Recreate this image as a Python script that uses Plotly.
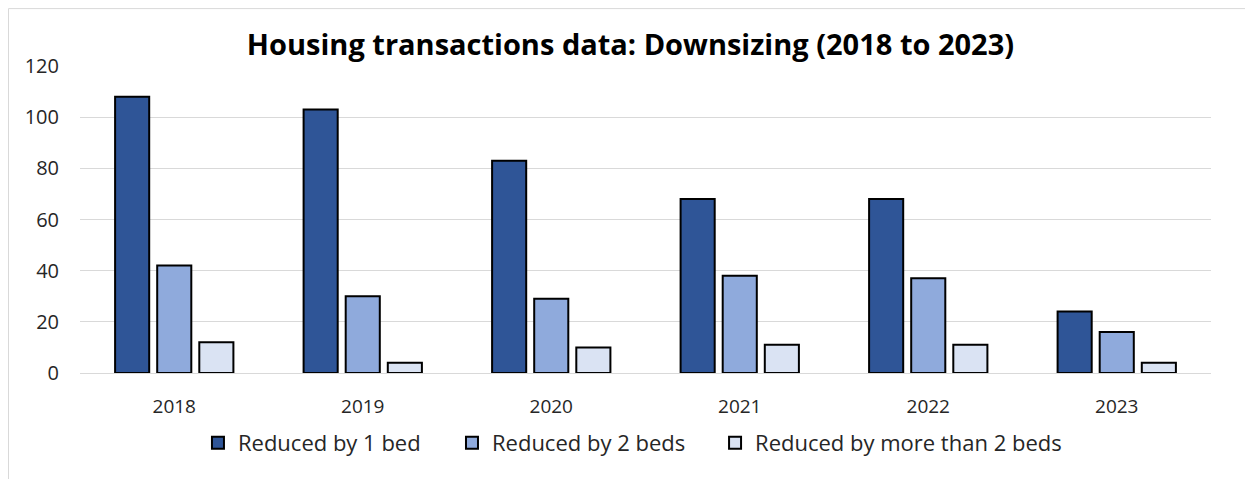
import plotly.graph_objects as go

years = ["2018", "2019", "2020", "2021", "2022", "2023"]
reduced_1 = [108, 103, 83, 68, 68, 24]
reduced_2 = [42, 30, 29, 38, 37, 16]
reduced_more = [12, 4, 10, 11, 11, 4]

series = [
    ("Reduced by 1 bed", reduced_1, "#2F5597"),
    ("Reduced by 2 beds", reduced_2, "#8FAADC"),
    ("Reduced by more than 2 beds", reduced_more, "#DAE3F3"),
]

_FONT = "Open Sans, Noto Sans, Arial, sans-serif"
# one legend per series so the entries can be spaced like the original
legend_ids = ["legend", "legend2", "legend3"]
legend_x = [0.1043, 0.3289, 0.5615]

fig = go.Figure()
for (name, vals, color), lid in zip(series, legend_ids):
    fig.add_trace(go.Bar(
        x=years, y=vals, name=name, legend=lid, showlegend=True,
        marker=dict(color=color, line=dict(color="#000000", width=2)),
    ))

legend_style = dict(
    orientation="h", xanchor="left", y=-0.228, yanchor="middle",
    font=dict(size=22, color="#262626"), itemwidth=30,
    bgcolor="rgba(0,0,0,0)",
)

# page body has an 8px margin, so the figure is sized/offset to compensate
fig.update_layout(
    width=1245, height=471, showlegend=True,
    barmode="group", bargap=0.33, bargroupgap=0.19,
    paper_bgcolor="#FFFFFF", plot_bgcolor="#FFFFFF",
    margin=dict(l=72, r=42, t=58, b=106),
    font=dict(family=_FONT, size=20, color="#262626"),
    title=dict(
        text="<b>Housing transactions data: Downsizing (2018 to 2023)</b>",
        x=0.5, xanchor="center", y=0.921, yanchor="middle",
        font=dict(size=29, color="#000000", family=_FONT),
    ),
    legend=dict(x=legend_x[0], **legend_style),
    legend2=dict(x=legend_x[1], **legend_style),
    legend3=dict(x=legend_x[2], **legend_style),
    shapes=[dict(
        type="rect", xref="paper", yref="paper",
        x0=-0.0632, x1=1.2, y0=-0.6, y1=1.187,
        line=dict(color="#D9D9D9", width=1), layer="below",
    )],
)
fig.update_xaxes(
    showgrid=False, showline=True, linecolor="#D9D9D9", linewidth=1,
    ticks="", ticklabelstandoff=16, tickfont=dict(size=19, color="#262626"),
)
fig.update_yaxes(
    range=[0, 120], dtick=20, showgrid=True, gridcolor="#D9D9D9", gridwidth=1,
    zeroline=False, showline=False, ticks="", ticklabelstandoff=20,
    tickfont=dict(size=20, color="#262626"),
)

fig.write_html("out.html")
